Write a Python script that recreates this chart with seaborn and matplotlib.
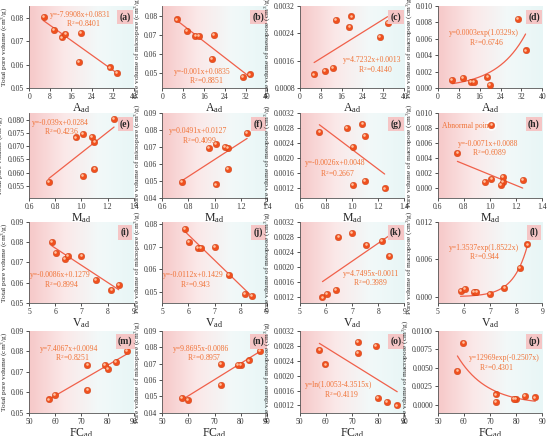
import numpy as np
import pandas as pd
import matplotlib
matplotlib.use("Agg")
import matplotlib.pyplot as plt
import matplotlib.transforms as mtransforms
from matplotlib.colors import LinearSegmentedColormap
import seaborn as sns

# ---- data (8 coal samples) ----
A_ad = [5.5, 9.6, 12.7, 13.9, 19.0, 19.8, 30.8, 33.6]
M_ad = [1.25, 1.01, 1.10, 0.96, 1.10, 1.08, 1.01, 0.75]
V_ad = [5.87, 6.03, 6.38, 6.48, 7.55, 7.00, 8.43, 8.15]
FC_ad = [87.3, 83.3, 80.0, 79.0, 72.3, 72.3, 59.8, 57.5]
total_pv = [0.0803, 0.0747, 0.0716, 0.0733, 0.0613, 0.0734, 0.0588, 0.0566]
micro_pv = [0.0780, 0.0720, 0.0695, 0.0695, 0.0573, 0.0700, 0.0480, 0.0492]
meso_pv = [0.0012, 0.0013, 0.0014, 0.0028, 0.0026, 0.0029, 0.0023, 0.0027]
macro_pv = [0.0010, 0.0012, 0.0008, 0.0008, 0.0014, 0.0004, 0.0084, 0.0046]
abnormal_idx = 6  # sample excluded from fit in panel (h)

x_names = ["A", "M", "V", "FC"]
x_data = {"A": A_ad, "M": M_ad, "V": V_ad, "FC": FC_ad}
y_names = ["total", "micro", "meso", "macro"]
y_data = {"total": total_pv, "micro": micro_pv, "meso": meso_pv, "macro": macro_pv}
y_labels = ["Total pore volume (cm$^3$/g)", "Pore volume of micropore (cm$^3$/g)",
            "Pore volume of mesopore (cm$^3$/g)", "Pore volume of macropore (cm$^3$/g)"]
x_labels = ["A$_{\\mathrm{ad}}$", "M$_{\\mathrm{ad}}$", "V$_{\\mathrm{ad}}$", "FC$_{\\mathrm{ad}}$"]
panel_letters = list("abcdefghijklmnop")

equations = ["y=-7.9908x+0.0831", "y=-0.001x+0.0835", "y=4.7232x+0.0013", "y=0.0003exp(1.0329x)",
             "y=-0.039x+0.0284", "y=0.0491x+0.0127", "y=-0.0026x+0.0048", "y=-0.0071x+0.0088",
             "y=-0.0086x+0.1279", "y=-0.0112x+0.1429", "y=4.7495x-0.0011", "y=1.3537exp(1.8522x)",
             "y=7.4067x+0.0094", "y=9.8695x-0.0086", "y=ln(1.0053-4.3515x)", "y=12969exp(-0.2507x)"]
r2_texts = ["R$^2$=0.8401", "R$^2$=0.8851", "R$^2$=0.4140", "R$^2$=0.6746",
            "R$^2$=0.4236", "R$^2$=0.4099", "R$^2$=0.2667", "R$^2$=0.6089",
            "R$^2$=0.8994", "R$^2$=0.943", "R$^2$=0.3989", "R$^2$=0.944",
            "R$^2$=0.8251", "R$^2$=0.8957", "R$^2$=0.4119", "R$^2$=0.4301"]
fit_kind = ["lin", "lin", "lin", "exp",
            "lin", "lin", "lin", "lin",
            "lin", "lin", "lin", "exp",
            "lin", "lin", "lin", "exp"]

# ---- layout / style ----
xlims = {"A": (0, 40), "M": (0.6, 1.4), "V": (5, 9), "FC": (50, 90)}
xticks = {"A": [0, 8, 16, 24, 32, 40], "M": [0.6, 0.8, 1.0, 1.2, 1.4],
          "V": [5, 6, 7, 8, 9], "FC": [50, 60, 70, 80, 90]}
xfmt = {"A": "%d", "M": "%.1f", "V": "%d", "FC": "%d"}
ylims = [(0.05, 0.085), (0.042, 0.085), (0.0008, 0.0032), (0.0, 0.010),
         (0.0505, 0.0825), (0.04, 0.09), (0.00095, 0.0032), (-0.0014, 0.010),
         (0.05, 0.09), (0.045, 0.081), (0.00105, 0.0032), (-0.001, 0.012),
         (0.05, 0.09), (0.04, 0.09), (0.001, 0.0032), (-0.0011, 0.010)]
yticks = [[0.05, 0.06, 0.07, 0.08], [0.05, 0.06, 0.07, 0.08],
          [0.0008, 0.0016, 0.0024, 0.0032], [0, 0.002, 0.004, 0.006, 0.008, 0.010],
          [0.055, 0.060, 0.065, 0.070, 0.075, 0.080], [0.04, 0.05, 0.06, 0.07, 0.08, 0.09],
          [0.0012, 0.0016, 0.0020, 0.0024, 0.0028, 0.0032], [0, 0.002, 0.004, 0.006, 0.008, 0.010],
          [0.05, 0.06, 0.07, 0.08, 0.09], [0.05, 0.06, 0.07, 0.08],
          [0.0012, 0.0016, 0.0020, 0.0024, 0.0028, 0.0032], [0.0, 0.006, 0.012],
          [0.05, 0.06, 0.07, 0.08, 0.09], [0.04, 0.05, 0.06, 0.07, 0.08, 0.09],
          [0.0012, 0.0016, 0.0020, 0.0024, 0.0028, 0.0032], [0, 0.0025, 0.005, 0.0075, 0.010]]
yfmt = ["%.2f", "%.2f", "%.4f", "%.3f",
        "%.3f", "%.2f", "%.4f", "%.3f",
        "%.2f", "%.2f", "%.4f", "%.3f",
        "%.2f", "%.2f", "%.4f", "%.4f"]
eq_pos = [(0.20, 0.89), (0.11, 0.20), (0.41, 0.34), (0.11, 0.67),
          (0.03, 0.88), (0.06, 0.79), (0.05, 0.41), (0.19, 0.64),
          (0.01, 0.35), (0.01, 0.35), (0.41, 0.36), (0.11, 0.68),
          (0.10, 0.78), (0.10, 0.78), (0.05, 0.34), (0.30, 0.67)]
r2_pos = [(0.35, 0.79), (0.26, 0.09), (0.56, 0.23), (0.30, 0.56),
          (0.14, 0.78), (0.19, 0.68), (0.19, 0.29), (0.33, 0.53),
          (0.14, 0.23), (0.17, 0.23), (0.51, 0.25), (0.30, 0.57),
          (0.25, 0.67), (0.24, 0.67), (0.23, 0.23), (0.39, 0.55)]

col_left = [0.053, 0.295, 0.545, 0.796]
col_w = 0.19
row_bottom = [0.798, 0.546, 0.305, 0.053]
row_h = [0.188, 0.195, 0.186, 0.188]

sns.set_theme(style="ticks")
plt.rcParams["font.family"] = ["Liberation Serif", "DejaVu Serif"]
plt.rcParams["mathtext.fontset"] = "custom"
plt.rcParams["mathtext.rm"] = "Liberation Serif"
plt.rcParams["mathtext.it"] = "Liberation Serif:italic"

pt_color = "#f0501e"
line_color = "#f0604a"
txt_color = "#f07236"
bg_cmap = LinearSegmentedColormap.from_list("bg", ["#f6c8c8", "#fbe8e8", "#f2f9f9", "#e8f6f6"])
grad = np.linspace(0, 1, 256).reshape(1, -1)


def exp_fit(x, y):
    x = np.asarray(x, float)
    y = np.asarray(y, float)
    span = x.max() - x.min()
    best = None
    for b in np.linspace(-25 / span, 25 / span, 20001):
        e = np.exp(b * (x - x.min()))
        a = np.dot(y, e) / np.dot(e, e)
        sse = np.sum((y - a * e) ** 2)
        if best is None or sse < best[0]:
            best = (sse, a, b)
    _, a, b = best
    return lambda t: a * np.exp(b * (np.asarray(t) - x.min()))


fig = plt.figure(figsize=(5.5, 4.36), dpi=100)

for r, xn in enumerate(x_names):
    for c, yn in enumerate(y_names):
        i = r * 4 + c
        ax = fig.add_axes([col_left[c], row_bottom[r], col_w, row_h[r]])
        ax.imshow(grad, extent=[0, 1, 0, 1], transform=ax.transAxes, aspect="auto",
                  cmap=bg_cmap, zorder=0, interpolation="bicubic")
        xs = np.asarray(x_data[xn], float)
        ys = np.asarray(y_data[yn], float)
        df = pd.DataFrame({"x": xs, "y": ys})
        fit_df = df.drop(index=abnormal_idx) if i == 7 else df

        if fit_kind[i] == "lin":
            sns.regplot(data=fit_df, x="x", y="y", ax=ax, scatter=False, ci=None,
                        truncate=True, line_kws=dict(color=line_color, lw=0.9, zorder=2))
        else:
            f = exp_fit(fit_df["x"], fit_df["y"])
            xx = np.linspace(fit_df["x"].min(), fit_df["x"].max(), 200)
            sns.lineplot(x=xx, y=f(xx), ax=ax, color=line_color, lw=0.9, zorder=2)

        if i == 7:
            ax.scatter([xs[abnormal_idx]], [ys[abnormal_idx]], s=60, color="white",
                       alpha=0.8, zorder=2.5, linewidths=0)
        sns.scatterplot(data=df, x="x", y="y", ax=ax, s=22, color=pt_color,
                        edgecolor="#c83a10", linewidth=0.3, zorder=3)
        shift = mtransforms.ScaledTranslation(-0.6 / 72, 0.6 / 72, fig.dpi_scale_trans)
        ax.scatter(xs, ys, s=3.5, color="#ffc2a0", linewidths=0, zorder=4,
                   transform=ax.transData + shift)

        ax.set_xlim(*xlims[xn])
        ax.set_xticks(xticks[xn])
        ax.set_ylim(*ylims[i])
        ax.set_yticks(yticks[i])
        ax.yaxis.set_major_formatter(matplotlib.ticker.FormatStrFormatter(yfmt[i]))
        ax.xaxis.set_major_formatter(matplotlib.ticker.FormatStrFormatter(xfmt[xn]))
        ax.tick_params(labelsize=5.5, length=2, width=0.6, pad=1.5, colors="#333333")
        for s in ["top", "right"]:
            ax.spines[s].set_visible(False)
        for s in ["left", "bottom"]:
            ax.spines[s].set_linewidth(0.6)
            ax.spines[s].set_color("#555555")
        ax.set_xlabel(x_labels[r], fontsize=8.5, labelpad=0.5)
        ax.set_ylabel(y_labels[c], fontsize=5.3, labelpad=1.5)

        ax.text(*eq_pos[i], equations[i], transform=ax.transAxes, fontsize=5.5,
                color=txt_color, va="center", ha="left", zorder=5)
        ax.text(*r2_pos[i], r2_texts[i], transform=ax.transAxes, fontsize=5.5,
                color=txt_color, va="center", ha="left", zorder=5)
        ax.text(0.92, 0.87, "(%s)" % panel_letters[i], transform=ax.transAxes,
                fontsize=7, fontweight="bold", ha="center", va="center", zorder=5,
                bbox=dict(boxstyle="square,pad=0.25", fc="#f5c6c6", ec="none"))
        if i == 7:
            ax.text(0.04, 0.85, "Abnormal point", transform=ax.transAxes, fontsize=5.5,
                    color=txt_color, va="center", ha="left", zorder=5)

fig.savefig("out.png", dpi=100)
